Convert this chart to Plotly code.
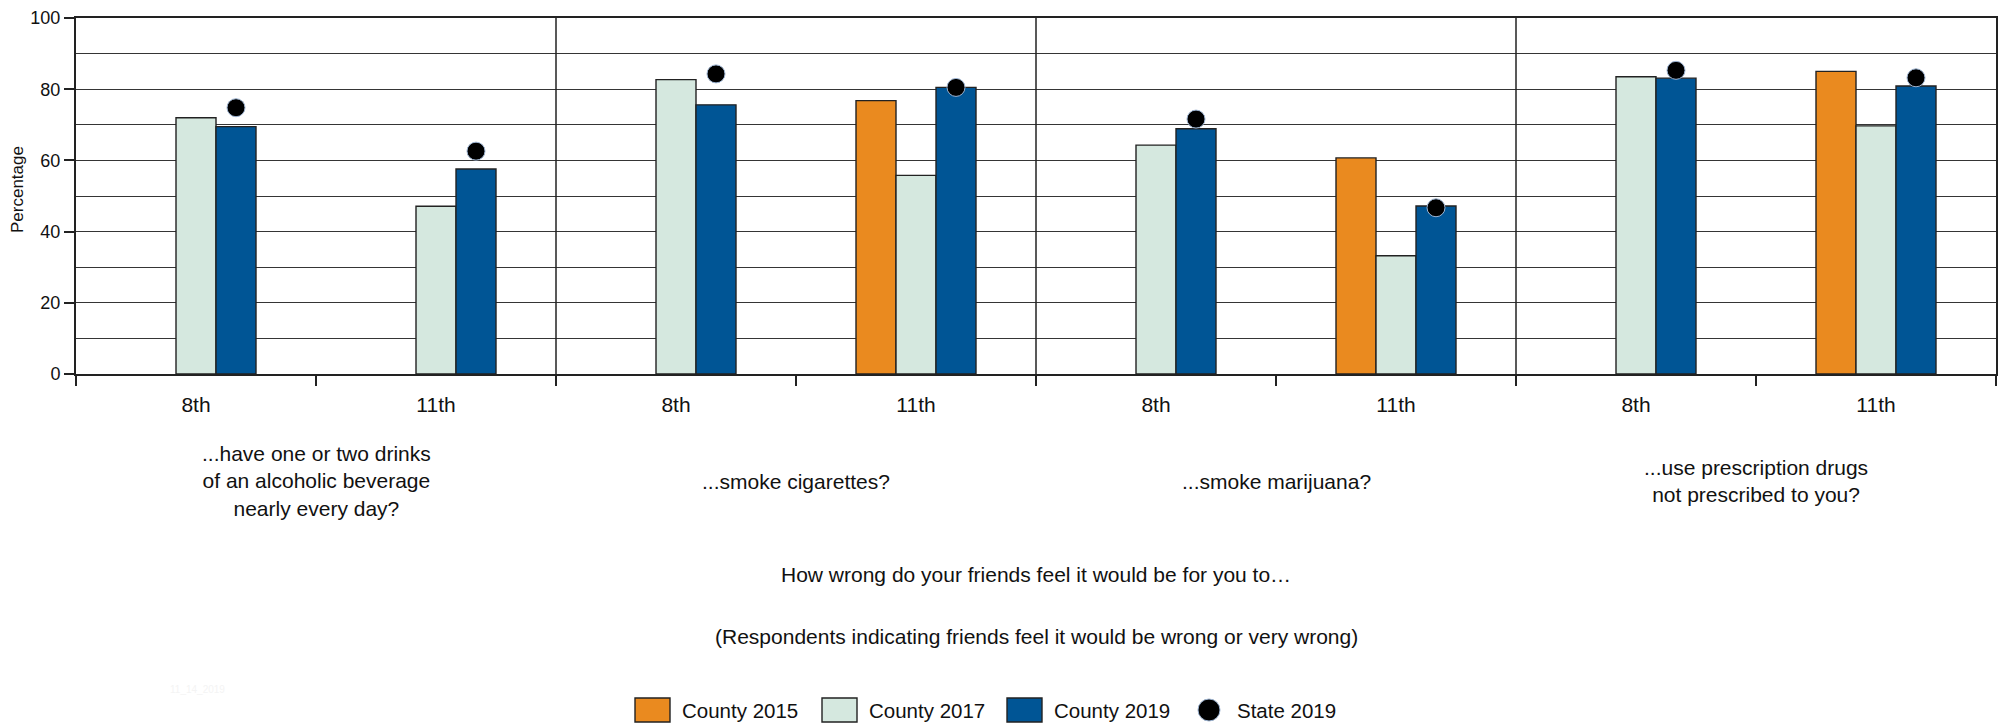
import numpy as np
import plotly.graph_objects as go

# ---------------- data ----------------
questions = [
    "...have one or two drinks<br>of an alcoholic beverage<br>nearly every day?",
    "...smoke cigarettes?",
    "...smoke marijuana?",
    "...use prescription drugs<br>not prescribed to you?",
]
grades = ["8th", "11th"]
county_2015 = [None, None, None, 76.8, None, 60.7, None, 85.0]
county_2017 = [72.0, 47.1, 82.7, 55.8, 64.3, 33.2, 83.5, 69.7]
county_2019 = [69.5, 57.6, 75.6, 80.5, 68.9, 47.2, 83.1, 80.9]
state_2019 = [74.8, 62.6, 84.3, 80.5, 71.6, 46.7, 85.3, 83.2]
series_names = ["County 2015", "County 2017", "County 2019", "State 2019"]
y_ticks = [0, 20, 40, 60, 80, 100]
title_1 = "How wrong do your friends feel it would be for you to…"
title_2 = "(Respondents indicating friends feel it would be wrong or very wrong)"
stamp = "11_14_2019"

# ---------------- style ----------------
W, H = 1998, 725
ML, MR, MT, MB = 76, 2, 18, 351
PW, PH = W - ML - MR, H - MT - MB
FONT = "Liberation Sans, Arial, Helvetica, sans-serif"
colors = ["#EA8A1F", "#D5E8DF", "#005595", "#000000"]
LINE = "#222222"
GRID = "#353535"
BAR_W = 1 / 6
LEGEND_X_PX = [635, 822, 1007, 1198]
LEGEND_Y_PX = 710


def px_x(px):
    return (px - ML) / PW


def px_y(py):
    return (MT + PH - py) / PH


n_sub = len(grades) * len(questions)
pos = np.arange(n_sub)
tick_text = grades * len(questions)

fig = go.Figure()
bar_series = [county_2015, county_2017, county_2019]
for i, vals in enumerate(bar_series):
    fig.add_trace(go.Bar(
        x=pos, y=vals, name=series_names[i],
        width=BAR_W, offset=-1.5 * BAR_W + i * BAR_W,
        marker=dict(color=colors[i], line=dict(color=LINE, width=1.4)),
        showlegend=False,
    ))

fig.add_trace(go.Scatter(
    x=pos + BAR_W, y=state_2019, name=series_names[3], mode="markers",
    marker=dict(color=colors[3], size=18, line=dict(color="#9DB4D2", width=1)),
    showlegend=False,
))

shapes = []
for k in range(1, len(questions)):
    xb = k * len(grades) - 0.5
    shapes.append(dict(type="line", xref="x", yref="paper", x0=xb, x1=xb, y0=0, y1=1,
                       line=dict(color=LINE, width=1.5)))

annotations = []
for k, q in enumerate(questions):
    annotations.append(dict(
        x=k * len(grades) + (len(grades) - 1) / 2, xref="x",
        y=px_y(481), yref="paper", yanchor="middle", xanchor="center",
        text=q, showarrow=False, font=dict(size=21, color="#111", family=FONT),
    ))

annotations += [
    dict(x=0.5, xref="paper", y=px_y(574), yref="paper", yanchor="middle", text=title_1,
         showarrow=False, font=dict(size=21, color="#111", family=FONT)),
    dict(x=0.5, xref="paper", y=px_y(636), yref="paper", yanchor="middle", text=title_2,
         showarrow=False, font=dict(size=21, color="#111", family=FONT)),
    dict(x=px_x(168), xref="paper", y=px_y(689), yref="paper", yanchor="middle", text=stamp,
         showarrow=False, font=dict(size=10, color="#F4F4F4", family=FONT)),
    dict(x=px_x(18), xref="paper", y=px_y(190), yref="paper", textangle=-90,
         xanchor="center", yanchor="middle", text="Percentage",
         showarrow=False, font=dict(size=17, color="#111", family=FONT)),
]

# custom legend
for i, name in enumerate(series_names):
    x0 = LEGEND_X_PX[i]
    if i < 3:
        shapes.append(dict(type="rect", xref="paper", yref="paper",
                           x0=px_x(x0), x1=px_x(x0 + 35),
                           y0=px_y(LEGEND_Y_PX + 12), y1=px_y(LEGEND_Y_PX - 12),
                           fillcolor=colors[i], line=dict(color=LINE, width=1.4)))
        tx = x0 + 45
    else:
        shapes.append(dict(type="circle", xref="paper", yref="paper",
                           x0=px_x(x0), x1=px_x(x0 + 22),
                           y0=px_y(LEGEND_Y_PX + 11), y1=px_y(LEGEND_Y_PX - 11),
                           fillcolor=colors[i], line=dict(color="#9DB4D2", width=1)))
        tx = x0 + 37
    annotations.append(dict(x=px_x(tx), xref="paper", y=px_y(LEGEND_Y_PX), yref="paper",
                            xanchor="left", yanchor="middle", text=name, showarrow=False,
                            font=dict(size=20.5, color="#111", family=FONT)))

fig.update_layout(
    width=W, height=H,
    margin=dict(l=ML, r=MR, t=MT, b=MB, autoexpand=False),
    paper_bgcolor="white", plot_bgcolor="white",
    barmode="overlay", showlegend=False,
    font=dict(family=FONT, color="#111"),
    shapes=shapes, annotations=annotations,
    xaxis=dict(
        range=[-0.5, n_sub - 0.5], tickmode="array", tickvals=pos, ticktext=tick_text,
        ticks="outside", ticklen=11, tickcolor="rgba(0,0,0,0)",
        tickfont=dict(size=21, color="#111", family=FONT),
        showgrid=False, zeroline=False, showline=True, mirror=True,
        linecolor=LINE, linewidth=2,
        minor=dict(tickmode="linear", tick0=-0.5, dtick=1, ticks="outside",
                   ticklen=10, tickcolor=LINE, tickwidth=1.5, showgrid=False),
    ),
    yaxis=dict(
        range=[0, 100], tickmode="array", tickvals=y_ticks,
        ticks="outside", ticklen=10, tickcolor=LINE, tickwidth=1.5,
        tickfont=dict(size=18, color="#111", family=FONT),
        showgrid=True, gridcolor=GRID, gridwidth=1.3,
        minor=dict(tickmode="linear", tick0=0, dtick=10, showgrid=True,
                   gridcolor=GRID, gridwidth=1.3, ticks=""),
        zeroline=False, showline=True, mirror=True, linecolor=LINE, linewidth=2,
    ),
)

fig.write_html(
    "out.html",
    config={"displayModeBar": False},
    post_script="document.body.style.margin='0';document.body.style.overflow='hidden';",
)
